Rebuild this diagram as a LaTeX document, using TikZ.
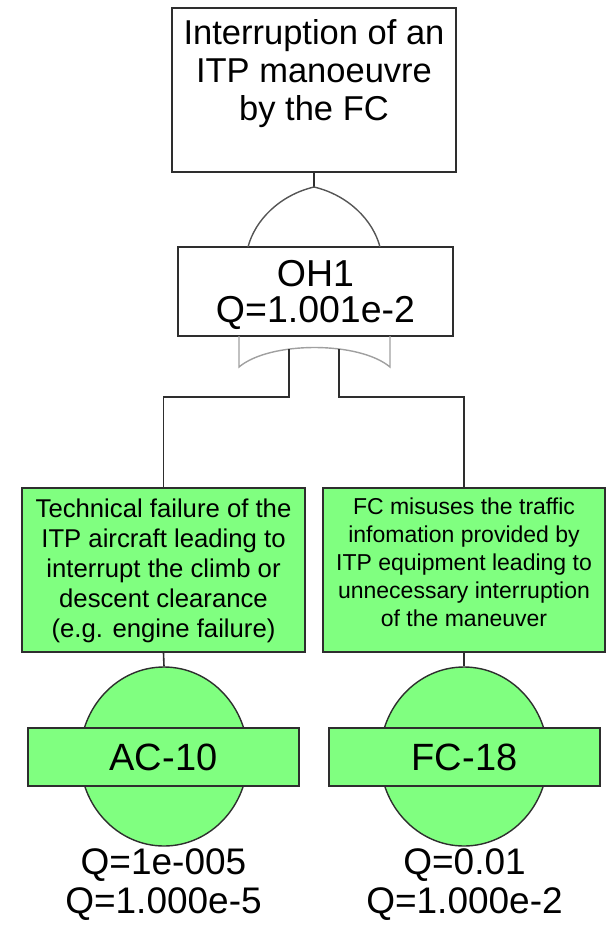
\documentclass[tikz,border=0pt]{standalone}
\usepackage{fontspec}
\setmainfont{Liberation Sans}
\usetikzlibrary{shapes.geometric}
\definecolor{evgreen}{HTML}{80FF80}
\definecolor{edgecol}{HTML}{2E2E2E}
\definecolor{gatecol}{HTML}{555555}
\definecolor{gatelow}{HTML}{A0A0A0}
\begin{document}
\begin{tikzpicture}[x=1pt,y=-1pt,
  box/.style={draw=edgecol,line width=1.6pt,rectangle,inner sep=0pt},
  evbox/.style={box,fill=evgreen},
  txt/.style={inner sep=0pt,align=center,text=black},
  conn/.style={draw=edgecol,line width=1.6pt},
  gateline/.style={draw=gatecol,line width=1.4pt},
  gatelowline/.style={draw=gatelow,line width=1.4pt},
  basic/.style={ellipse,draw=edgecol,line width=1.4pt,fill=evgreen,inner sep=0pt,minimum width=168,minimum height=179}]
\useasboundingbox (0,0) rectangle (606,932);

% top event
\node[box,minimum width=284,minimum height=164] (top) at (314,90) {};
\node[txt,font={\fontsize{34.5}{38}\selectfont}] (toptext) at (314,74) {Interruption of an\\ITP manoeuvre\\by the FC};

% gate apex and OR gate top
\coordinate (apex) at (314,187);
\draw[conn] (top.south) -- (apex);

% OH1 box
\node[box,fill=white,minimum width=275,minimum height=89] (oh1) at (315.5,291.5) {};
\node[txt,font={\fontsize{37.5}{36}\selectfont}] (oh1text) at (315.5,294.5) {OH1\\Q=1.001e-2};

\draw[gateline] (248,247) .. controls (255,220) and (280,195) .. (apex);
\draw[gateline] (apex) .. controls (348,195) and (373,220) .. (380,247);

% gate bottom
\draw[gatelowline] (239,336) -- (239,367) .. controls (270,341) and (359,341) .. (390,367) -- (390,336);
\coordinate (g1) at (289,349);
\coordinate (g2) at (339,349);

% events
\node[evbox,minimum width=283,minimum height=164] (ev1) at (163.5,570) {};
\node[txt,font={\fontsize{25.7}{30}\selectfont}] (ev1text) at (163.5,571.3) {Technical failure of the\\ITP aircraft leading to\\interrupt the climb or\\descent clearance\\(e.g. engine failure)};
\node[evbox,minimum width=282,minimum height=164] (ev2) at (464,570) {};
\node[txt,font={\fontsize{23}{28}\selectfont}] (ev2text) at (464,562.6) {FC misuses the traffic\\infomation provided by\\ITP equipment leading to\\unnecessary interruption\\of the maneuver};

\draw[conn] (g1) -- ++(0,48) -| (ev1.north);
\draw[conn] (g2) -- ++(0,48) -| (ev2.north);

% basic events
\node[basic] (c1) at (164,756.5) {};
\node[basic] (c2) at (464,756.5) {};
\draw[conn] (ev1.south) -- (c1.north);
\draw[conn] (ev2.south) -- (c2.north);
\node[evbox,minimum width=271,minimum height=58,font={\fontsize{38}{40}\selectfont}] (b1) at (163.5,757) {AC-10};
\node[evbox,minimum width=271,minimum height=58,font={\fontsize{38}{40}\selectfont}] (b2) at (464.5,757) {FC-18};

\node[txt,font={\fontsize{37}{39}\selectfont}] (q1) at (163.5,885) {Q=1e-005\\Q=1.000e-5};
\node[txt,font={\fontsize{37}{39}\selectfont}] (q2) at (464.5,885) {Q=0.01\\Q=1.000e-2};
\end{tikzpicture}
\end{document}
